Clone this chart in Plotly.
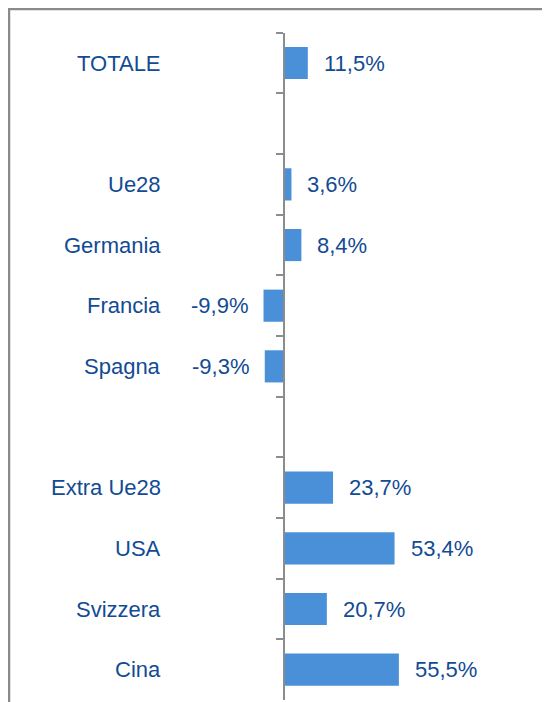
import plotly.graph_objects as go

categories = ["TOTALE", " ", "Ue28", "Germania", "Francia", "Spagna", "  ",
              "Extra Ue28", "USA", "Svizzera", "Cina"]
values = [11.5, None, 3.6, 8.4, -9.9, -9.3, None, 23.7, 53.4, 20.7, 55.5]

# page body has an 8px margin: build the figure in page coordinates minus 8
OFF = 8
W, H = 550 - OFF, 702 - OFF
BAR_COLOR = "#4a90d9"
TEXT_COLOR = "#124b93"
AXIS_COLOR = "#8c8c8c"
FONT = "Liberation Sans, Arial, sans-serif"
FS = 22


def px_x(p):
    return (p - OFF) / W


def px_y(p):
    return 1 - (p - OFF) / H


fig = go.Figure()
fig.add_trace(go.Bar(
    y=categories, x=values, orientation="h",
    marker=dict(color=BAR_COLOR, line=dict(width=0)),
    hoverinfo="skip",
))

annotations = []
for c, v in zip(categories, values):
    if c.strip():
        annotations.append(dict(
            xref="paper", yref="y", x=px_x(162.5), y=c, text=c,
            xanchor="right", yanchor="middle", showarrow=False,
            font=dict(family=FONT, size=FS, color=TEXT_COLOR)))
    if v is not None:
        annotations.append(dict(
            xref="x", yref="y", x=v, y=c,
            text=f"{v:.1f}".replace(".", ",") + "%",
            xanchor="left" if v >= 0 else "right",
            xshift=14 if v >= 0 else -14,
            yanchor="middle", showarrow=False,
            font=dict(family=FONT, size=FS, color=TEXT_COLOR)))

zero_px = 284 - OFF
px_per_unit = 2.07
fig.update_layout(
    width=W, height=H, autosize=False,
    margin=dict(l=0, r=0, t=0, b=0),
    paper_bgcolor="white", plot_bgcolor="rgba(0,0,0,0)",
    showlegend=False, bargap=0.47,
    xaxis=dict(domain=[0, 1],
               range=[-zero_px / px_per_unit, (W - zero_px) / px_per_unit],
               visible=False, showgrid=False, zeroline=False, fixedrange=True),
    yaxis=dict(type="category", categoryorder="array", categoryarray=categories,
               range=[len(categories) - 0.5, -0.5],
               domain=[max(0, px_y(700)), px_y(32.7)],
               anchor="free", position=zero_px / W,
               showline=True, linecolor=AXIS_COLOR, linewidth=2,
               ticks="outside", ticklen=7, tickwidth=1.5, tickcolor=AXIS_COLOR,
               tickson="boundaries", showticklabels=False, showgrid=False,
               zeroline=False, automargin=False, fixedrange=True),
    annotations=annotations,
    shapes=[dict(type="rect", xref="paper", yref="paper",
                 x0=px_x(9), x1=1.05, y0=-0.05, y1=px_y(9),
                 line=dict(color="#8a8a8a", width=2.5), layer="above")],
)

fig.write_html("out.html", config={"displayModeBar": False})
